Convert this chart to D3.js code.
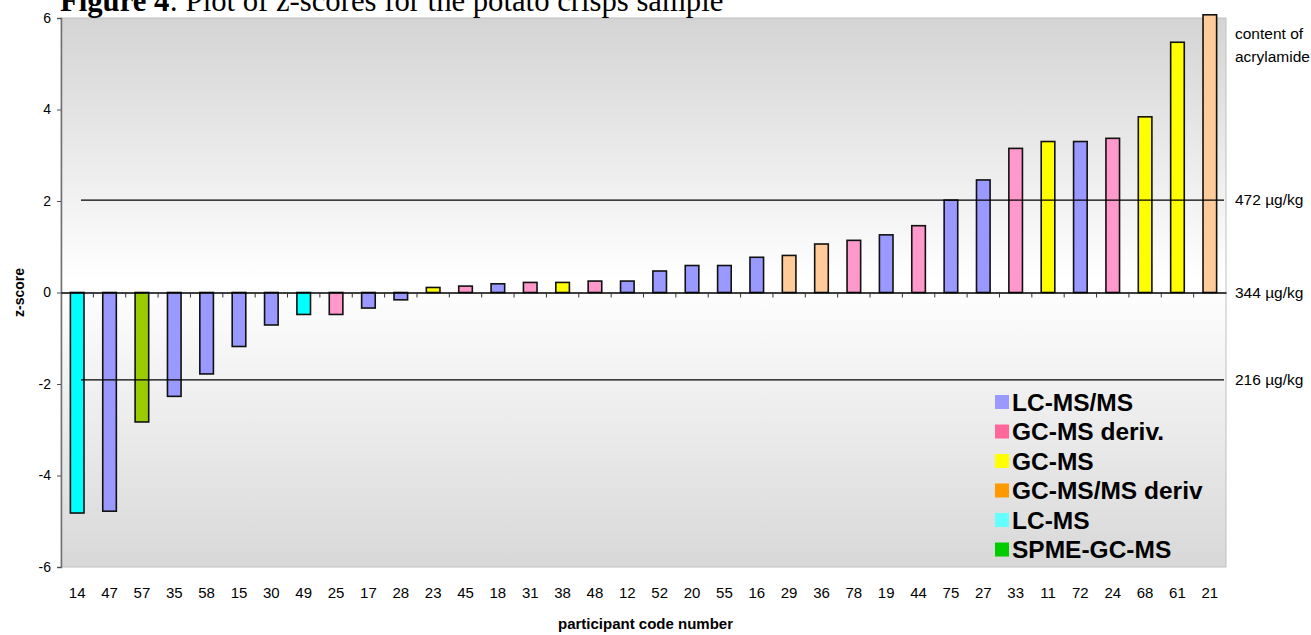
<!DOCTYPE html>
<html>
<head>
<meta charset="utf-8">
<script src="https://cdn.jsdelivr.net/npm/d3@7"></script>
<style>
  body { margin: 0; background: #fff; }
  svg { display: block; }
</style>
</head>
<body>
<div id="chart"></div>
<script>
  // participant codes in plotted order
  var codes = ["14","47","57","35","58","15","30","49","25","17","28","23","45","18","31","38","48","12",
               "52","20","55","16","29","36","78","19","44","75","27","33","11","72","24","68","61","21"]

  // z-scores
  var zscores = [-4.82,-4.78,-2.83,-2.27,-1.78,-1.18,-0.71,-0.48,-0.48,-0.34,-0.16,0.11,0.14,0.19,0.22,0.22,0.25,0.25,
                 0.47,0.59,0.59,0.77,0.81,1.06,1.14,1.26,1.46,2.02,2.46,3.15,3.30,3.30,3.37,3.84,5.47,6.07]

  // method used by each participant
  var methods = ["LC-MS","LC-MS/MS","SPME-GC-MS","LC-MS/MS","LC-MS/MS","LC-MS/MS","LC-MS/MS","LC-MS","GC-MS deriv.",
                 "LC-MS/MS","LC-MS/MS","GC-MS","GC-MS deriv.","LC-MS/MS","GC-MS deriv.","GC-MS","GC-MS deriv.","LC-MS/MS",
                 "LC-MS/MS","LC-MS/MS","LC-MS/MS","LC-MS/MS","GC-MS/MS deriv","GC-MS/MS deriv","GC-MS deriv.","LC-MS/MS",
                 "GC-MS deriv.","LC-MS/MS","LC-MS/MS","GC-MS deriv.","GC-MS","LC-MS/MS","GC-MS deriv.","GC-MS","GC-MS","GC-MS/MS deriv"]

  // legend entries, bar fill and legend swatch colours
  var methodNames = ["LC-MS/MS","GC-MS deriv.","GC-MS","GC-MS/MS deriv","LC-MS","SPME-GC-MS"]
  var barColors = ["#9999ff","#ff99cc","#ffff00","#ffcc99","#00ffff","#99cc00"]
  var legendColors = ["#9999ff","#ff6699","#ffff00","#ff9900","#66ffff","#00cc00"]

  var yTicks = [-6,-4,-2,0,2,4,6]

  // limit lines: z-score and the matching content
  var limitZ = [2.02, -1.91]
  var limitLabels = [{z: 2.02, text: "472 µg/kg"}, {z: 0, text: "344 µg/kg"}, {z: -1.91, text: "216 µg/kg"}]

  var data = codes.map(function(c, i) {
    return {code: c, z: zscores[i], method: methods[i]}
  })

  var W = 1311, H = 635
  var margin = {top: 18, right: 85, bottom: 68, left: 61}
  var width = W - margin.left - margin.right,
      height = H - margin.top - margin.bottom
  var font = "Arial, 'Liberation Sans', sans-serif"

  var svg = d3.select("#chart").append("svg")
      .attr("width", W)
      .attr("height", H)

  // background gradient of the plot area
  var grad = svg.append("defs").append("linearGradient")
      .attr("id", "bg").attr("x1", 0).attr("y1", 0).attr("x2", 0).attr("y2", 1)
  grad.append("stop").attr("offset", "0%").attr("stop-color", "#d4d4d4")
  grad.append("stop").attr("offset", "48%").attr("stop-color", "#ffffff")
  grad.append("stop").attr("offset", "100%").attr("stop-color", "#d8d8d8")

  var g = svg.append("g")
      .attr("transform", "translate(" + margin.left + "," + margin.top + ")")

  var xScale = d3.scaleBand()
      .domain(codes)
      .range([0, width])
      .paddingInner(0.58)
      .paddingOuter(0.29)

  var yScale = d3.scaleLinear()
      .domain([-6, 6])
      .range([height, 0])

  var color = d3.scaleOrdinal().domain(methodNames).range(barColors)

  g.append("rect")
      .attr("width", width)
      .attr("height", height)
      .attr("fill", "url(#bg)")
      .attr("stroke", "#c0c0c0")

  // y axis
  var yAxis = d3.axisLeft(yScale).tickValues(yTicks).tickSize(4).tickPadding(6)
      .tickFormat(function(d) { return String(d) })
  var yg = g.append("g").attr("class", "y axis").call(yAxis)
  yg.select(".domain").attr("stroke", "#707070").attr("stroke-width", 1.5)
  yg.selectAll(".tick line").attr("stroke", "#505050")
  yg.selectAll("text").attr("font-family", font).attr("font-size", 14).attr("fill", "#000")

  // bars
  g.selectAll(".bar")
      .data(data)
    .enter().append("rect")
      .attr("class", "bar")
      .attr("x", function(d) { return xScale(d.code) })
      .attr("width", xScale.bandwidth())
      .attr("y", function(d) { return yScale(Math.max(0, d.z)) })
      .attr("height", function(d) { return Math.abs(yScale(d.z) - yScale(0)) })
      .attr("fill", function(d) { return color(d.method) })
      .attr("stroke", "#111")
      .attr("stroke-width", 1.6)

  // zero line with ticks between categories
  var xAxis = d3.axisBottom(xScale).tickSize(0).tickFormat("")
  var xg = g.append("g")
      .attr("class", "x axis")
      .attr("transform", "translate(0," + yScale(0) + ")")
      .call(xAxis)
  xg.select(".domain").attr("stroke", "#000").attr("stroke-width", 1.5)
  xg.selectAll(".sep")
      .data(codes.slice(1))
    .enter().append("line")
      .attr("class", "sep")
      .attr("x1", function(d) { return xScale(d) - xScale.step() * xScale.paddingInner() / 2 })
      .attr("x2", function(d) { return xScale(d) - xScale.step() * xScale.paddingInner() / 2 })
      .attr("y1", 0).attr("y2", 5)
      .attr("stroke", "#333")

  // category labels under the plot
  g.selectAll(".code")
      .data(codes)
    .enter().append("text")
      .attr("class", "code")
      .attr("x", function(d) { return xScale(d) + xScale.bandwidth() / 2 })
      .attr("y", height + 31)
      .attr("text-anchor", "middle")
      .attr("font-family", font)
      .attr("font-size", 15)
      .text(function(d) { return d })

  // limit lines
  g.selectAll(".limit")
      .data(limitZ)
    .enter().append("line")
      .attr("class", "limit")
      .attr("x1", 20)
      .attr("x2", width - 2)
      .attr("y1", function(d) { return yScale(d) })
      .attr("y2", function(d) { return yScale(d) })
      .attr("stroke", "#000")
      .attr("stroke-width", 1.2)

  // right hand labels
  g.selectAll(".limitlabel")
      .data(limitLabels)
    .enter().append("text")
      .attr("class", "limitlabel")
      .attr("x", width + 9)
      .attr("y", function(d) { return yScale(d.z) + 5 })
      .attr("font-family", font)
      .attr("font-size", 15.5)
      .text(function(d) { return d.text })

  g.append("text")
      .attr("x", width + 9).attr("y", 21)
      .attr("font-family", font)
      .attr("font-size", 15.5)
      .text("content of")
  g.append("text")
      .attr("x", width + 9).attr("y", 44)
      .attr("font-family", font)
      .attr("font-size", 15.5)
      .text("acrylamide")

  // legend
  var legend = g.selectAll(".legend")
      .data(methodNames)
    .enter().append("g")
      .attr("class", "legend")
      .attr("transform", function(d, i) { return "translate(" + (934) + "," + (384 + i * 29.5) + ")" })
  legend.append("rect")
      .attr("x", 0).attr("y", -7)
      .attr("width", 14).attr("height", 14)
      .attr("fill", function(d, i) { return legendColors[i] })
  legend.append("text")
      .attr("x", 17).attr("y", 8.5)
      .attr("font-family", font)
      .attr("font-weight", "bold")
      .attr("font-size", 24.5)
      .text(function(d) { return d })

  // axis titles
  g.append("text")
      .attr("transform", "rotate(-90)")
      .attr("x", -yScale(0))
      .attr("y", -37)
      .attr("text-anchor", "middle")
      .attr("font-family", font)
      .attr("font-weight", "bold")
      .attr("font-size", 14)
      .text("z-score")

  g.append("text")
      .attr("x", width / 2 + 2)
      .attr("y", height + 62)
      .attr("text-anchor", "middle")
      .attr("font-family", font)
      .attr("font-weight", "bold")
      .attr("font-size", 15)
      .text("participant code number")

  // figure caption, cut by the top of the page as in the scan
  var title = svg.append("text")
      .attr("x", 60)
      .attr("y", 11)
      .attr("font-family", "'Liberation Serif', 'Times New Roman', serif")
      .attr("font-size", 30.7)
  title.append("tspan").attr("font-weight", "bold").text("Figure 4")
  title.append("tspan").text(": Plot of z-scores for the potato crisps sample")
</script>
</body>
</html>
